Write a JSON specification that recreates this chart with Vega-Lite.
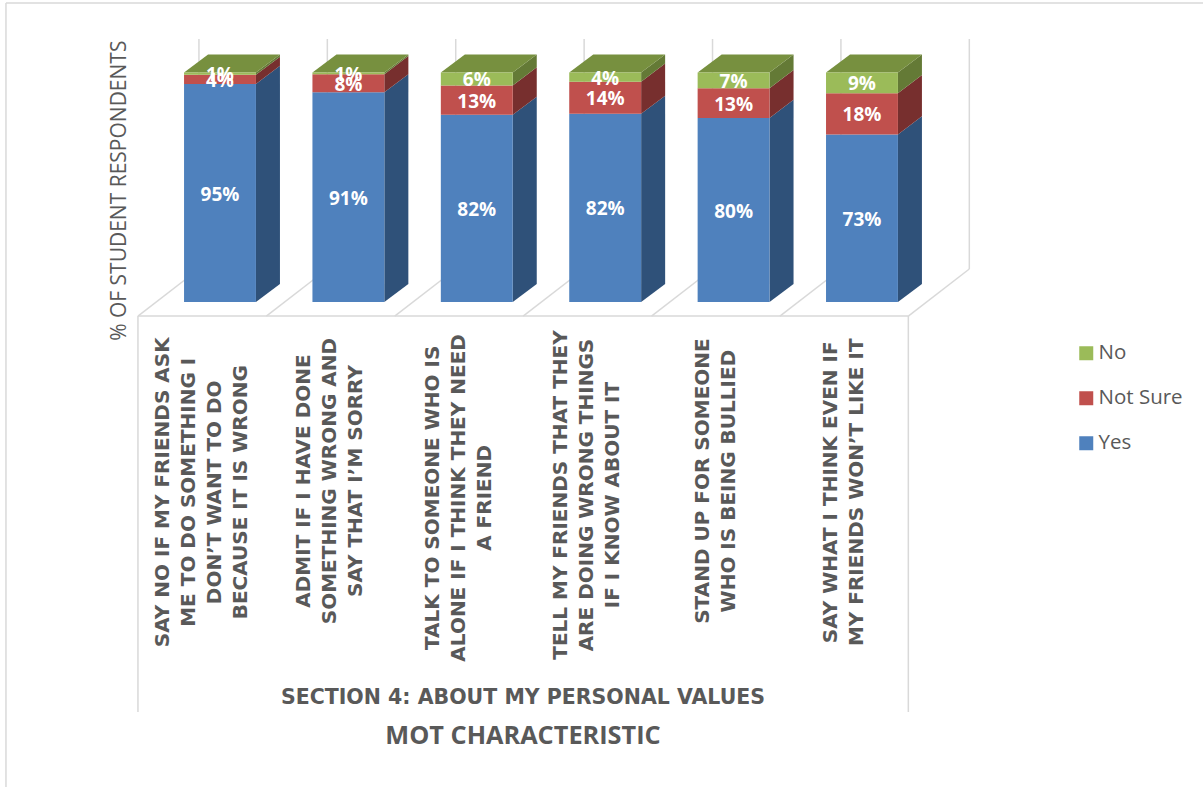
{"$schema":"https://vega.github.io/schema/vega-lite/v6.json","width":1203,"height":787,"autosize":"none","padding":0,"background":"white","view":{"stroke":null},
"config":{"font":"Open Sans"},
"datasets":{
"survey":[
{"pos":1,"response":"Yes","value":95},{"pos":1,"response":"Not Sure","value":4},{"pos":1,"response":"No","value":1},
{"pos":2,"response":"Yes","value":91.4},{"pos":2,"response":"Not Sure","value":7.9},{"pos":2,"response":"No","value":0.7},
{"pos":3,"response":"Yes","value":81.6},{"pos":3,"response":"Not Sure","value":12.8},{"pos":3,"response":"No","value":5.6},
{"pos":4,"response":"Yes","value":82},{"pos":4,"response":"Not Sure","value":14},{"pos":4,"response":"No","value":4},
{"pos":5,"response":"Yes","value":80.2},{"pos":5,"response":"Not Sure","value":13},{"pos":5,"response":"No","value":6.8},
{"pos":6,"response":"Yes","value":73},{"pos":6,"response":"Not Sure","value":18},{"pos":6,"response":"No","value":9}],
"labels":[
{"pos":1,"n":1,"line":"SAY NO IF MY FRIENDS ASK"},{"pos":1,"n":2,"line":"ME TO DO SOMETHING I"},{"pos":1,"n":3,"line":"DON’T WANT TO DO"},{"pos":1,"n":4,"line":"BECAUSE IT IS WRONG"},
{"pos":2,"n":1,"line":"ADMIT IF I HAVE DONE"},{"pos":2,"n":2,"line":"SOMETHING WRONG AND"},{"pos":2,"n":3,"line":"SAY THAT I’M SORRY"},
{"pos":3,"n":1,"line":"TALK TO SOMEONE WHO IS"},{"pos":3,"n":2,"line":"ALONE IF I THINK THEY NEED"},{"pos":3,"n":3,"line":"A FRIEND"},
{"pos":4,"n":1,"line":"TELL MY FRIENDS THAT THEY"},{"pos":4,"n":2,"line":"ARE DOING WRONG THINGS"},{"pos":4,"n":3,"line":"IF I KNOW ABOUT IT"},
{"pos":5,"n":1,"line":"STAND UP FOR SOMEONE"},{"pos":5,"n":2,"line":"WHO IS BEING BULLIED"},
{"pos":6,"n":1,"line":"SAY WHAT I THINK EVEN IF"},{"pos":6,"n":2,"line":"MY FRIENDS WON’T LIKE IT"}],
"walls":[{"k":0},{"k":1},{"k":2},{"k":3},{"k":4},{"k":5},{"k":6}]
},
"resolve":{"scale":{"color":"independent"}},
"layer":[
{"data":{"name":"walls"},"transform":[{"calculate":"0.361+datum.k","as":"front"},{"calculate":"datum.front+0.475","as":"back"}],
"mark":{"type":"rule","color":"#d9d9d9","strokeWidth":1.5},
"encoding":{"x":{"field":"front","type":"quantitative","scale":{"domain":[-0.7134,8.656],"nice":false,"zero":false},"axis":null},"x2":{"field":"back"},"y":{"datum":-6.1,"type":"quantitative","scale":{"domain":[-211.3,131.6],"nice":false,"zero":false},"axis":null},"y2":{"datum":14.4}}},
{"data":{"name":"walls"},"transform":[{"calculate":"0.836+datum.k","as":"back"}],
"mark":{"type":"rule","color":"#d9d9d9","strokeWidth":1.5},
"encoding":{"x":{"field":"back","type":"quantitative","scale":{"domain":[-0.7134,8.656],"nice":false,"zero":false},"axis":null},"y":{"datum":14.4,"type":"quantitative","scale":{"domain":[-211.3,131.6],"nice":false,"zero":false},"axis":null},"y2":{"datum":114.6}}},
{"data":{"values":[{"x":0.361,"x2":6.361,"y":-6.1,"y2":-6.1},{"x":0.361,"x2":0.361,"y":-6.1,"y2":-178.6},{"x":6.361,"x2":6.361,"y":-6.1,"y2":-178.6},{"x":-0.667,"x2":8.656,"y":130.3,"y2":130.3},{"x":-0.667,"x2":-0.667,"y":130.3,"y2":-211.3}]},
"mark":{"type":"rule","color":"#d9d9d9","strokeWidth":1.5},
"encoding":{"x":{"field":"x","type":"quantitative","scale":{"domain":[-0.7134,8.656],"nice":false,"zero":false},"axis":null},"x2":{"field":"x2"},"y":{"field":"y","type":"quantitative","scale":{"domain":[-211.3,131.6],"nice":false,"zero":false},"axis":null},"y2":{"field":"y2"}}},
{"data":{"name":"survey"},"transform":[
{"stack":"value","groupby":["pos"],"sort":[{"field":"response","order":"descending"}],"as":["v0","v1"]},
{"calculate":"[0,1]","as":"t"},{"flatten":["t"]},
{"calculate":"datum.pos+0.28+datum.t*0.187","as":"sx"},
{"calculate":"datum.v0+datum.t*7.9","as":"sy0"},
{"calculate":"datum.v1+datum.t*7.9","as":"sy1"}],
"mark":{"type":"area","orient":"vertical"},
"encoding":{"x":{"field":"sx","type":"quantitative","scale":{"domain":[-0.7134,8.656],"nice":false,"zero":false},"axis":null},
"y":{"field":"sy0","type":"quantitative","stack":null,"scale":{"domain":[-211.3,131.6],"nice":false,"zero":false},"axis":null},"y2":{"field":"sy1"},
"detail":{"field":"pos","type":"nominal"},
"color":{"field":"response","type":"nominal","scale":{"domain":["No","Not Sure","Yes"],"range":["#647a36","#772f2e","#2f5179"]},"legend":null}}},
{"data":{"name":"survey"},"transform":[
{"stack":"value","groupby":["pos"],"sort":[{"field":"response","order":"descending"}],"as":["v0","v1"]},
{"filter":"datum.response==='No'"},
{"calculate":"[0,1]","as":"t"},{"flatten":["t"]},
{"calculate":"datum.pos-0.28+datum.t*0.187","as":"tx0"},
{"calculate":"datum.pos+0.28+datum.t*0.187","as":"tx1"},
{"calculate":"datum.v1+datum.t*7.9","as":"ty"}],
"mark":{"type":"area","orient":"horizontal","color":"#77903f"},
"encoding":{"y":{"field":"ty","type":"quantitative","scale":{"domain":[-211.3,131.6],"nice":false,"zero":false},"axis":null},
"x":{"field":"tx0","type":"quantitative","stack":null,"scale":{"domain":[-0.7134,8.656],"nice":false,"zero":false},"axis":null},"x2":{"field":"tx1"},
"detail":{"field":"pos","type":"nominal"}}},
{"data":{"name":"survey"},"transform":[
{"stack":"value","groupby":["pos"],"sort":[{"field":"response","order":"descending"}],"as":["v0","v1"]},
{"calculate":"datum.pos-0.28","as":"fx0"},{"calculate":"datum.pos+0.28","as":"fx1"}],
"mark":{"type":"rect"},
"encoding":{"x":{"field":"fx0","type":"quantitative","scale":{"domain":[-0.7134,8.656],"nice":false,"zero":false},"axis":null},"x2":{"field":"fx1"},
"y":{"field":"v0","type":"quantitative","scale":{"domain":[-211.3,131.6],"nice":false,"zero":false},"axis":null},"y2":{"field":"v1"},
"color":{"field":"response","type":"nominal","scale":{"domain":["No","Not Sure","Yes"],"range":["#9bbb59","#c0504d","#4f81bd"]},
"legend":{"title":null,"orient":"none","legendX":1076,"legendY":343,"symbolType":"square","symbolSize":196,"symbolStrokeWidth":0,"labelFont":"Open Sans","labelFontSize":20.5,"labelColor":"#595959","labelOffset":2,"rowPadding":24}}}},
{"data":{"name":"survey"},"transform":[
{"stack":"value","groupby":["pos"],"sort":[{"field":"response","order":"descending"}],"as":["v0","v1"]},
{"calculate":"(datum.v0+datum.v1)/2","as":"mid"},
{"calculate":"format(datum.value,'.0f')+'%'","as":"label"}],
"mark":{"type":"text","color":"white","font":"Open Sans","fontWeight":"bold","fontSize":19,"align":"center","baseline":"middle","dy":1.5},
"encoding":{"x":{"field":"pos","type":"quantitative","scale":{"domain":[-0.7134,8.656],"nice":false,"zero":false},"axis":null},"y":{"field":"mid","type":"quantitative","scale":{"domain":[-211.3,131.6],"nice":false,"zero":false},"axis":null},"text":{"field":"label"}}},
{"data":{"name":"labels"},"transform":[
{"calculate":"length(datum.line)","as":"len"},
{"joinaggregate":[{"op":"max","field":"len","as":"maxlen"},{"op":"max","field":"n","as":"lines"}],"groupby":["pos"]},
{"calculate":"datum.pos-0.14+(datum.n-(datum.lines+1)/2)*0.2025","as":"lx"},
{"calculate":"-53.6-datum.maxlen*1.22","as":"ly"}],
"mark":{"type":"text","color":"#595959","font":"DejaVu Sans","fontWeight":"bold","fontSize":20,"angle":270,"align":"center","baseline":"middle"},
"encoding":{"x":{"field":"lx","type":"quantitative","scale":{"domain":[-0.7134,8.656],"nice":false,"zero":false},"axis":null},"y":{"field":"ly","type":"quantitative","scale":{"domain":[-211.3,131.6],"nice":false,"zero":false},"axis":null},"text":{"field":"line"}}},
{"data":{"values":[{"x":3.36,"y":-172.5,"t":"SECTION 4: ABOUT MY PERSONAL VALUES"}]},
"mark":{"type":"text","color":"#595959","font":"DejaVu Sans","fontWeight":"bold","fontSize":20.5,"align":"center","baseline":"middle"},
"encoding":{"x":{"field":"x","type":"quantitative","scale":{"domain":[-0.7134,8.656],"nice":false,"zero":false},"axis":null},"y":{"field":"y","type":"quantitative","scale":{"domain":[-211.3,131.6],"nice":false,"zero":false},"axis":null},"text":{"field":"t"}}},
{"data":{"values":[{"x":3.36,"y":-189,"t":"MOT CHARACTERISTIC"}]},
"mark":{"type":"text","color":"#595959","font":"Open Sans","fontWeight":"bold","fontSize":25.3,"align":"center","baseline":"middle"},
"encoding":{"x":{"field":"x","type":"quantitative","scale":{"domain":[-0.7134,8.656],"nice":false,"zero":false},"axis":null},"y":{"field":"y","type":"quantitative","scale":{"domain":[-211.3,131.6],"nice":false,"zero":false},"axis":null},"text":{"field":"t"}}},
{"data":{"values":[{"x":0.218,"y":48.5,"t":"% OF STUDENT RESPONDENTS"}]},
"mark":{"type":"text","color":"#595959","font":"Open Sans","fontSize":21,"angle":270,"align":"center","baseline":"middle"},
"encoding":{"x":{"field":"x","type":"quantitative","scale":{"domain":[-0.7134,8.656],"nice":false,"zero":false},"axis":null},"y":{"field":"y","type":"quantitative","scale":{"domain":[-211.3,131.6],"nice":false,"zero":false},"axis":null},"text":{"field":"t"}}}
]}
